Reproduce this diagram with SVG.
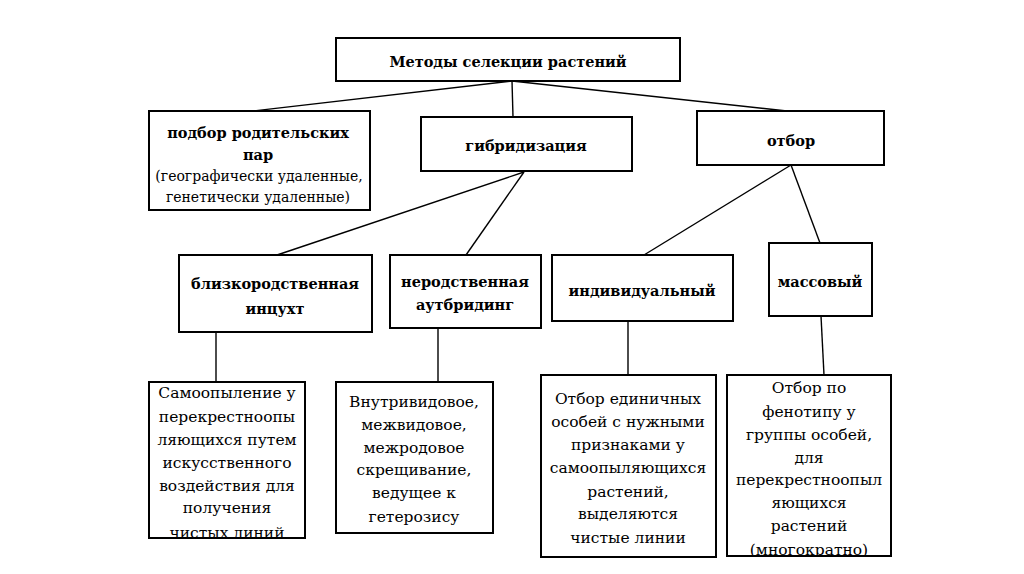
<svg xmlns="http://www.w3.org/2000/svg" width="1024" height="574" viewBox="0 0 1024 574">
<style>
.box{fill:#fff;stroke:#000;stroke-width:2}
.ln{stroke:#000;stroke-width:1.4;fill:none}
.b{font-family:"DejaVu Serif","Liberation Serif",serif;font-weight:bold;font-size:14.5px;text-anchor:middle;fill:#000}
.r{font-family:"DejaVu Serif","Liberation Serif",serif;font-size:15.5px;text-anchor:middle;fill:#000}
.s{font-family:"DejaVu Serif","Liberation Serif",serif;font-size:14px;text-anchor:middle;fill:#000}
</style>
<defs>
<clipPath id="c1"><rect x="149" y="382" width="156" height="156"/></clipPath>
<clipPath id="c4"><rect x="727" y="375" width="164" height="181"/></clipPath>
</defs>
<rect width="1024" height="574" fill="#fff"/>
<g id="connectors">
<line class="ln" x1="512" y1="81" x2="253" y2="111"/>
<line class="ln" x1="512" y1="81" x2="513" y2="117"/>
<line class="ln" x1="512" y1="81" x2="787" y2="111"/>
<line class="ln" x1="524" y1="172" x2="277" y2="255"/>
<line class="ln" x1="524" y1="172" x2="466" y2="255"/>
<line class="ln" x1="791" y1="165" x2="644" y2="255"/>
<line class="ln" x1="791" y1="165" x2="820" y2="243"/>
<line class="ln" x1="216" y1="332" x2="216" y2="382"/>
<line class="ln" x1="438" y1="328" x2="438" y2="382"/>
<line class="ln" x1="628" y1="321" x2="628" y2="375"/>
<line class="ln" x1="821" y1="316" x2="824" y2="375"/>
</g>
<g id="root">
<rect class="box" x="336" y="38" width="344" height="43"/>
<text class="b" x="508" y="67">Методы селекции растений</text>
</g>
<g id="podbor">
<rect class="box" x="149" y="111" width="221" height="99"/>
<text class="b" x="258" y="138">подбор родительских</text>
<text class="b" x="258" y="160">пар</text>
<text class="s" x="259" y="181">(географически удаленные,</text>
<text class="s" x="258" y="202">генетически удаленные)</text>
</g>
<g id="gibrid">
<rect class="box" x="421" y="117" width="211" height="54"/>
<text class="b" x="526" y="151">гибридизация</text>
</g>
<g id="otbor">
<rect class="box" x="697" y="111" width="187" height="54"/>
<text class="b" x="791" y="146">отбор</text>
</g>
<g id="blizko">
<rect class="box" x="179" y="255" width="193" height="77"/>
<text class="b" x="275" y="289">близкородственная</text>
<text class="b" x="275" y="314">инцухт</text>
</g>
<g id="nerod">
<rect class="box" x="390" y="255" width="151" height="73"/>
<text class="b" x="465" y="287">неродственная</text>
<text class="b" x="465" y="310">аутбридинг</text>
</g>
<g id="indiv">
<rect class="box" x="552" y="255" width="181" height="66"/>
<text class="b" x="642" y="296">индивидуальный</text>
</g>
<g id="mass">
<rect class="box" x="769" y="243" width="103" height="73"/>
<text class="b" x="820" y="287">массовый</text>
</g>
<g id="samoop">
<rect class="box" x="149" y="382" width="156" height="156"/>
<g clip-path="url(#c1)">
<text class="r" x="227" y="398">Самоопыление у</text>
<text class="r" x="227" y="422">перекрестноопы</text>
<text class="r" x="227" y="445">ляющихся путем</text>
<text class="r" x="227" y="468">искусственного</text>
<text class="r" x="227" y="491">воздействия для</text>
<text class="r" x="227" y="513">получения</text>
<text class="r" x="227" y="538">чистых линий</text>
</g>
<rect class="box" x="149" y="382" width="156" height="156" style="fill:none"/>
</g>
<g id="vnutri">
<rect class="box" x="336" y="382" width="157" height="151"/>
<text class="r" x="414" y="407">Внутривидовое,</text>
<text class="r" x="414" y="430">межвидовое,</text>
<text class="r" x="414" y="453">межродовое</text>
<text class="r" x="414" y="475">скрещивание,</text>
<text class="r" x="414" y="498">ведущее к</text>
<text class="r" x="414" y="522">гетерозису</text>
</g>
<g id="edin">
<rect class="box" x="541" y="375" width="175" height="182"/>
<text class="r" x="628" y="404">Отбор единичных</text>
<text class="r" x="628" y="427">особей с нужными</text>
<text class="r" x="628" y="450">признаками у</text>
<text class="r" x="628" y="473">самоопыляющихся</text>
<text class="r" x="628" y="497">растений,</text>
<text class="r" x="628" y="519">выделяются</text>
<text class="r" x="628" y="543">чистые линии</text>
</g>
<g id="fenotip">
<rect class="box" x="727" y="375" width="164" height="181"/>
<g clip-path="url(#c4)">
<text class="r" x="809" y="393">Отбор по</text>
<text class="r" x="809" y="417">фенотипу у</text>
<text class="r" x="809" y="440">группы особей,</text>
<text class="r" x="809" y="463">для</text>
<text class="r" x="809" y="485">перекрестноопыл</text>
<text class="r" x="809" y="508">яющихся</text>
<text class="r" x="809" y="531">растений</text>
<text class="r" x="809" y="555">(многократно)</text>
</g>
<rect class="box" x="727" y="375" width="164" height="181" style="fill:none"/>
</g>
</svg>
